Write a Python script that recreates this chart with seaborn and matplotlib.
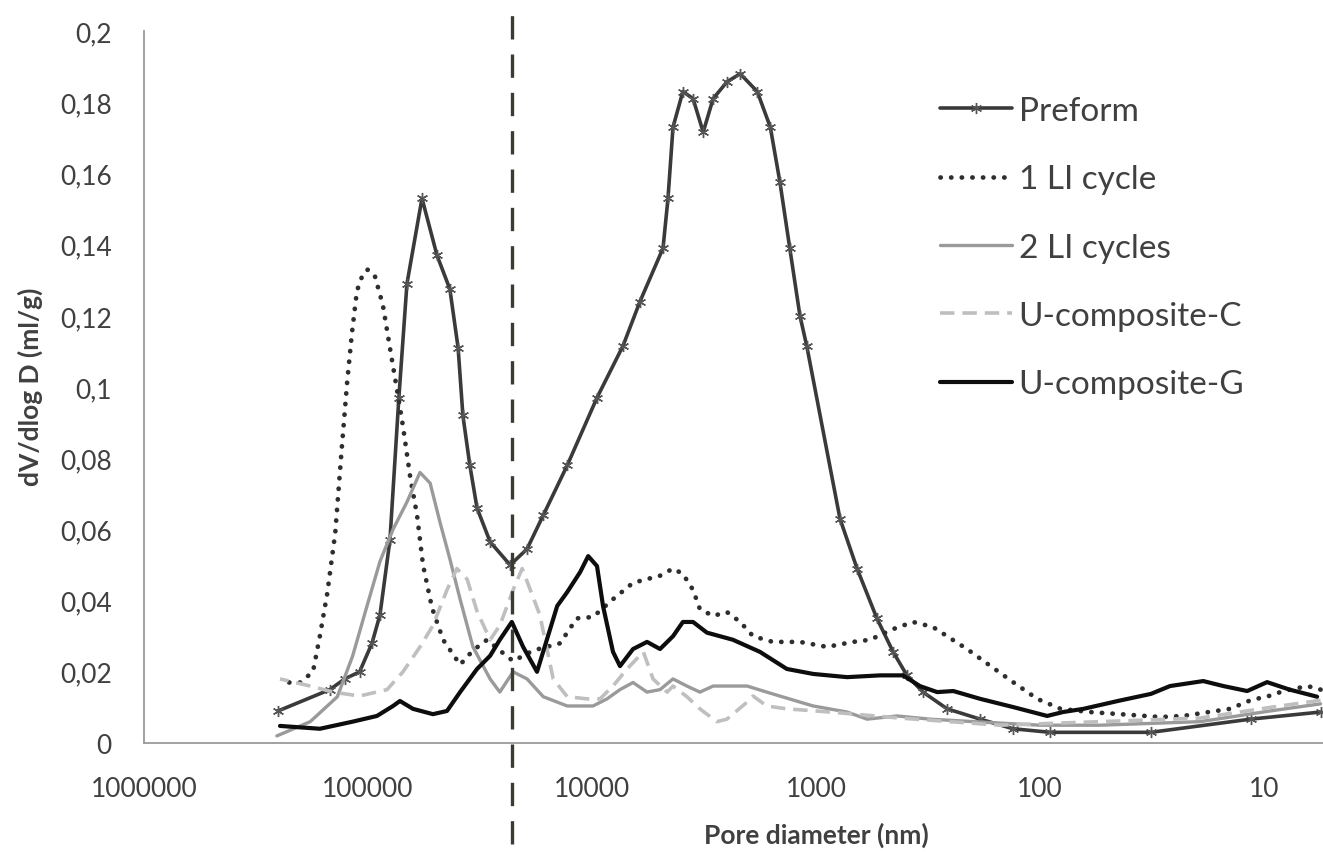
import matplotlib
matplotlib.use("Agg")
import matplotlib.pyplot as plt
from matplotlib.ticker import NullLocator
import seaborn as sns

# ================================
# Data (pore diameter in nm, dV/dlog D in ml/g)
# ================================
preform_d = [252000, 148000, 127000, 109000, 96000, 88400, 79800, 72800, 67000, 57400,
             49200, 43100, 39600, 37700, 35100, 32600, 28500, 23200, 19500, 16500,
             12900, 9500, 7280, 6110, 4820, 4580, 4350, 3930, 3540, 3190,
             2880, 2500, 2180, 1830, 1600, 1450, 1310, 1180, 1100, 782,
             656, 535, 453, 393, 333, 260, 185, 132, 90, 32, 11.5, 5.6]
preform_v = [0.009, 0.015, 0.018, 0.020, 0.028, 0.036, 0.057, 0.097, 0.129, 0.153,
             0.137, 0.1275, 0.111, 0.092, 0.078, 0.066, 0.0565, 0.050, 0.0545, 0.064,
             0.078, 0.097, 0.1115, 0.124, 0.139, 0.153, 0.173, 0.183, 0.181, 0.1716,
             0.181, 0.1857, 0.188, 0.183, 0.173, 0.1576, 0.139, 0.120, 0.1115, 0.063,
             0.049, 0.035, 0.0256, 0.019, 0.0143, 0.0096, 0.0067, 0.004, 0.003, 0.003, 0.0067, 0.0087]

li1_d = [247000, 201000, 176000, 164000, 152000, 140000, 131000, 124000, 118000, 112000,
         105000, 100000, 93000, 85800, 79800, 74300, 69800, 64900, 60400, 56800,
         51800, 46200, 38800, 34000, 29400, 25800, 22500, 18300, 13900, 11700,
         9900, 8060, 6560, 4970, 4350, 3930, 3540, 3300, 2880, 2500,
         2180, 1910, 1560, 1180, 893, 684, 574, 453, 369, 301,
         260, 212, 167, 132, 103, 81, 60, 29, 23, 14.2,
         11.5, 9.4, 8.2, 6.4, 5.6]
li1_v = [0.017, 0.017, 0.020, 0.030, 0.042, 0.059, 0.0826, 0.101, 0.115, 0.127,
         0.132, 0.133, 0.131, 0.123, 0.111, 0.0994, 0.089, 0.075, 0.064, 0.050,
         0.038, 0.029, 0.022, 0.026, 0.029, 0.026, 0.023, 0.026, 0.028, 0.035,
         0.0354, 0.0404, 0.045, 0.047, 0.049, 0.0475, 0.043, 0.0376, 0.0357, 0.0368,
         0.034, 0.030, 0.0284, 0.0284, 0.027, 0.0284, 0.029, 0.032, 0.034, 0.0326,
         0.030, 0.0264, 0.0217, 0.0171, 0.0124, 0.0096, 0.0087, 0.0073, 0.0076, 0.0096,
         0.012, 0.0133, 0.0146, 0.016, 0.015]

li2_d = [255000, 181000, 137000, 117000, 101000, 88400, 77300, 67000, 58600, 52800,
         47700, 43100, 38800, 34000, 28500, 25800, 22500, 19500, 16500, 12900,
         9900, 8570, 7500, 6560, 5680, 4970, 4350, 3770, 3300, 2880,
         2030, 1660, 1180, 1030, 727, 592, 435, 310, 185, 100,
         54, 19.3, 9.4, 5.6]
li2_v = [0.002, 0.006, 0.013, 0.0245, 0.0385, 0.051, 0.060, 0.0677, 0.076, 0.073,
         0.062, 0.0517, 0.0404, 0.027, 0.018, 0.0143, 0.020, 0.018, 0.013, 0.0104,
         0.0104, 0.0124, 0.015, 0.017, 0.0143, 0.015, 0.018, 0.016, 0.0143, 0.016,
         0.016, 0.0143, 0.0115, 0.0104, 0.0087, 0.0067, 0.0076, 0.0067, 0.0059, 0.005,
         0.005, 0.006, 0.009, 0.011]

uc_d = [247000, 181000, 143000, 109000, 82200, 69800, 58600, 51300, 44400, 40100,
        36100, 32600, 28500, 25800, 22500, 20500, 17100, 14900, 12900, 10500,
        9210, 8060, 6980, 5900, 5340, 4620, 4350, 3770, 3300, 2770,
        2500, 2030, 1910, 1660, 1350, 866, 422, 151, 54, 19.3,
        9.4, 5.6]
uc_v = [0.018, 0.016, 0.0143, 0.0132, 0.015, 0.020, 0.027, 0.033, 0.043, 0.049,
        0.046, 0.037, 0.029, 0.033, 0.043, 0.049, 0.036, 0.018, 0.013, 0.0124,
        0.0124, 0.016, 0.0208, 0.0256, 0.018, 0.0143, 0.016, 0.013, 0.0096, 0.006,
        0.0067, 0.0115, 0.0132, 0.0104, 0.0096, 0.0087, 0.007, 0.005, 0.006, 0.007,
        0.010, 0.012]

ug_d = [247000, 164000, 117000, 91200, 77300, 72000, 63000, 51300, 44400, 38800,
        32600, 28500, 25800, 22800, 20300, 17600, 14300, 12900, 11300, 10400,
        9500, 8930, 8060, 7500, 6560, 5680, 4970, 4350, 3930, 3540,
        3070, 2350, 1780, 1350, 1030, 727, 518, 409, 344, 288,
        244, 185, 132, 93, 79, 64, 45, 32, 26.3, 18.7,
        15.2, 11.9, 9.7, 7.7, 5.8]
ug_v = [0.0048, 0.004, 0.006, 0.0076, 0.0104, 0.0118, 0.0096, 0.0081, 0.009, 0.0143,
        0.0208, 0.0245, 0.029, 0.034, 0.027, 0.020, 0.0385, 0.0424, 0.048, 0.0525,
        0.0497, 0.0385, 0.0256, 0.0216, 0.0264, 0.0284, 0.0264, 0.030, 0.034, 0.034,
        0.031, 0.029, 0.0256, 0.0208, 0.0194, 0.0185, 0.019, 0.019, 0.016, 0.0143,
        0.0146, 0.0124, 0.0101, 0.0076, 0.0087, 0.0096, 0.0118, 0.0138, 0.016, 0.0174,
        0.016, 0.0146, 0.0171, 0.015, 0.013]

cutoff_d = 22700  # vertical dashed marker

x_ticks = [1000000, 100000, 10000, 1000, 100, 10]
x_tick_labels = ["1000000", "100000", "10000", "1000", "100", "10"]
y_ticks = [0, 0.02, 0.04, 0.06, 0.08, 0.1, 0.12, 0.14, 0.16, 0.18, 0.2]
y_tick_labels = ["0", "0,02", "0,04", "0,06", "0,08", "0,1", "0,12", "0,14", "0,16", "0,18", "0,2"]

# ================================
# Style
# ================================
sns.set_theme(style="white")
plt.rcParams["font.family"] = ["Lato", "DejaVu Sans"]
text_col = "#404040"

fig = plt.figure(figsize=(13.23, 8.54), dpi=100)
ax = fig.add_axes([0.1088, 0.1288, 0.8912, 0.8337])

# ================================
# Lines
# ================================
sns.lineplot(x=preform_d, y=preform_v, ax=ax, estimator=None, color="#3a3a3a", lw=2.6,
             marker=(6, 2, 0), markersize=8, markeredgecolor="#555555", markeredgewidth=1.0,
             label="Preform", zorder=3)
sns.lineplot(x=li1_d, y=li1_v, ax=ax, estimator=None, color="#2e2e2e", lw=3.4,
             linestyle=(0, (0.05, 2.2)), dash_capstyle="round", label="1 LI cycle", zorder=4)
sns.lineplot(x=li2_d, y=li2_v, ax=ax, estimator=None, color="#9a9a9a", lw=2.4,
             label="2 LI cycles", zorder=5)
sns.lineplot(x=uc_d, y=uc_v, ax=ax, estimator=None, color="#bfbfbf", lw=2.6,
             linestyle=(0, (4, 2.2)), label="U-composite-C", zorder=6)
sns.lineplot(x=ug_d, y=ug_v, ax=ax, estimator=None, color="#0d0d0d", lw=3.0,
             label="U-composite-G", zorder=7)

ax.axvline(cutoff_d, ymin=-0.142, ymax=1.03, color="#3b3b33", lw=2.4,
           linestyle=(0, (7, 4.5)), clip_on=False, zorder=8)

# ================================
# Axes
# ================================
ax.set_xscale("log")
ax.set_xlim(1000000, 5.46)
ax.set_ylim(0, 0.2)
ax.set_xticks(x_ticks)
ax.set_xticklabels(x_tick_labels)
ax.xaxis.set_minor_locator(NullLocator())
ax.set_yticks(y_ticks)
ax.set_yticklabels(y_tick_labels)
ax.tick_params(axis="both", length=0, labelsize=19, colors=text_col)
ax.tick_params(axis="x", pad=24)
ax.tick_params(axis="y", pad=23)
ax.set_xlabel("")
ax.set_ylabel("")

sns.despine(ax=ax)
for side in ["left", "bottom"]:
    ax.spines[side].set_color("#9a9a9a")
    ax.spines[side].set_linewidth(1.3)

fig.text(816 / 1323, 1 - 835 / 854, "Pore diameter (nm)", ha="center", va="center",
         fontsize=19, fontweight="bold", color=text_col)
fig.text(30 / 1323, 1 - 387 / 854, "dV/dlog D (ml/g)", ha="center", va="center",
         rotation=90, fontsize=19, fontweight="bold", color=text_col)

leg = ax.legend(loc="upper left", bbox_to_anchor=(940 / 1323, 1 - 97 / 854),
                bbox_transform=fig.transFigure, frameon=False, fontsize=24,
                handlelength=2.16, handletextpad=0.2, labelspacing=1.15,
                borderpad=0, borderaxespad=0)
for t in leg.get_texts():
    t.set_color(text_col)

fig.savefig("out.png", dpi=100)
